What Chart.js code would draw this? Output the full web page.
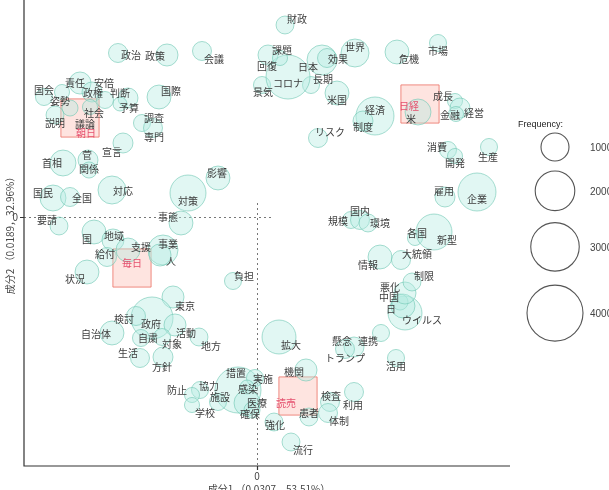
<!DOCTYPE html>
<html>
<head>
<meta charset="utf-8">
<script src="https://cdn.jsdelivr.net/npm/chart.js@4"></script>
<style>
    html, body { margin: 0; padding: 0; background: #fff; }
    #wrap { width: 609px; height: 490px; }
</style>
</head>
<body>
<div id="wrap"><canvas id="ca-chart" width="609" height="490"></canvas></div>
<script>
// words (row points) of the correspondence analysis
const words = [
    '政治', '政策', '会議', '国会', '責任', '安倍', '政権', '判断', '姿勢', '社会',
    '予算', '議論', '説明', '国際', '調査', '専門', '宣言', '首相', '菅', '関係',
    '対応', '国民', '全国', '影響', '対策', '事態', '要請', '国', '地域', '支援',
    '事業', '人', '給付', '状況', '負担', '東京', '政府', '検討', '自治体', '自粛',
    '活動', '対象', '地方', '生活', '方針', '措置', '実施', '感染', '施設', '協力',
    '防止', '学校', '医療', '確保', '強化', '機関', '患者', '拡大', '懸念', 'トランプ',
    '連携', '活用', '検査', '利用', '体制', '流行', 'ウイルス', '中国', '日', '悪化',
    '制限', '情報', '大統領', '各国', '新型', '規模', '国内', '環境', '雇用', '企業',
    '消費', '開発', '生産', '成長', '経営', '金融', '米', '経済', '制度', 'リスク',
    '米国', '長期', '景気', 'コロナ', '回復', '課題', '日本', '効果', '世界', '財政',
    '危機', '市場'
];
const dim1 = [
    -1.39, -0.90, -0.55, -2.13, -1.77, -1.65, -1.52, -1.29, -1.95, -1.67,
    -1.37, -1.87, -2.02, -0.98, -1.15, -1.04, -1.34, -1.94, -1.69, -1.68,
    -1.45, -2.04, -1.87, -0.39, -0.69, -0.76, -1.98, -1.63, -1.44, -1.29,
    -0.94, -0.97, -1.50, -1.70, -0.24, -0.84, -1.05, -1.21, -1.45, -1.16,
    -0.82, -0.95, -0.58, -1.17, -0.94, -0.19, -0.02, -0.10, -0.39, -0.57,
    -0.65, -0.65, -0.10, -0.05, 0.17, 0.49, 0.52, 0.22, 0.97, 0.88,
    1.24, 1.39, 0.73, 0.97, 0.71, 0.34, 1.48, 1.43, 1.46, 1.48,
    1.55, 1.23, 1.44, 1.58, 1.77, 0.94, 1.03, 1.11, 1.88, 2.20,
    1.91, 1.98, 2.32, 1.98, 2.03, 1.99, 1.61, 1.18, 1.06, 0.61,
    0.80, 0.54, 0.05, 0.31, 0.11, 0.23, 0.65, 0.70, 0.98, 0.28,
    1.40, 1.81
];
const dim2 = [
    1.64, 1.62, 1.66, 1.20, 1.34, 1.25, 1.17, 1.19, 1.25, 1.10,
    1.13, 1.09, 1.02, 1.20, 0.94, 0.89, 0.74, 0.54, 0.57, 0.47,
    0.27, 0.19, 0.20, 0.39, 0.24, -0.06, -0.09, -0.15, -0.23, -0.33,
    -0.33, -0.38, -0.40, -0.55, -0.64, -0.80, -1.01, -0.99, -1.16, -1.21,
    -1.08, -1.20, -1.20, -1.41, -1.40, -1.73, -1.61, -1.70, -1.85, -1.73,
    -1.78, -1.88, -1.86, -1.93, -2.05, -1.53, -2.00, -1.20, -1.30, -1.32,
    -1.16, -1.41, -1.85, -1.75, -1.96, -2.25, -0.96, -0.85, -0.89, -0.76,
    -0.65, -0.40, -0.43, -0.21, -0.15, -0.03, -0.03, -0.06, 0.20, 0.25,
    0.67, 0.61, 0.70, 1.16, 1.09, 1.03, 1.05, 1.01, 0.96, 0.79,
    1.24, 1.32, 1.32, 1.40, 1.62, 1.59, 1.57, 1.59, 1.64, 1.92,
    1.65, 1.74
];
const freq = [
    460, 620, 460, 370, 620, 510, 370, 510, 290, 290,
    250, 330, 410, 730, 370, 460, 510, 860, 510, 330,
    1000, 860, 460, 730, 1650, 730, 410, 730, 620, 730,
    1150, 620, 460, 730, 370, 620, 2250, 460, 730, 370,
    620, 370, 410, 460, 510, 2700, 370, 250, 370, 370,
    290, 290, 860, 330, 410, 620, 410, 1470, 510, 460,
    370, 370, 460, 460, 460, 410, 1470, 330, 730, 620,
    410, 730, 460, 290, 1650, 370, 460, 410, 510, 1840,
    370, 290, 370, 290, 510, 290, 860, 1840, 510, 460,
    730, 370, 370, 2470, 510, 290, 1150, 460, 1000, 410,
    730, 370
];

// newspapers (column points)
const papers = ['朝日', '毎日', '読売', '日経'];
const paperDim1 = [-1.77, -1.25, 0.41, 1.63];
const paperDim2 = [0.99, -0.51, -1.79, 1.13];

const legendFreq = [1000, 2000, 3000, 4000];

// label nudges in px (repelled text placement)
const wordNudge = [
    [13, 2], [-12, 1], [12, 8], [0, -7], [-5, 0], [12, -9], [-12, -7], [-8, -5], [-2, 9], [4, 6],
    [9, 4], [15, 16], [0, 8], [12, -6], [12, -5], [1, 9], [-11, 9], [-11, 0], [-1, -5], [0, -1],
    [11, 1], [-10, -5], [12, 1], [-1, -5], [0, 8], [-13, -6], [-12, -6], [-7, 7], [1, -4], [13, -3],
    [5, -6], [11, 6], [-2, -3], [-12, 7], [11, -5], [12, 9], [-1, 6], [-12, 3], [-16, 1], [7, 0],
    [11, 8], [10, 7], [12, 9], [-12, -5], [-1, 10], [-2, -17], [8, 1], [1, 2], [2, -5], [9, -4],
    [-15, -5], [13, 8], [10, 0], [-2, 4], [1, 3], [-12, 2], [0, -4], [12, 8], [-12, -6], [0, 9],
    [-13, 8], [0, 8], [1, -6], [-1, 13], [11, 8], [12, 8], [17, 7], [-11, -5], [-12, 3], [-15, -6],
    [12, -6], [-12, 8], [16, -6], [2, -5], [13, 8], [-13, 1], [0, -9], [12, 0], [-1, -6], [0, 7],
    [-11, -3], [0, 7], [-1, 10], [-12, -5], [14, 5], [-6, 1], [-7, 7], [0, -6], [0, 6], [12, -6],
    [0, 7], [12, -6], [1, 7], [0, 6], [-1, 11], [2, -8], [-14, 7], [11, 1], [0, -6], [12, -6],
    [12, 7], [0, 8]
];
const paperNudge = [[6, 15], [0, -5], [-12, 7], [-11, 2]];

const JP_FONT = '"Noto Sans CJK JP", "Noto Sans", sans-serif';

// bubble area proportional to frequency
const sizeOf = (f) => 14 * Math.sqrt(f / 1000);

const wordPoints = words.map((w, i) => ({ x: dim1[i], y: dim2[i], r: sizeOf(freq[i]) }));
const paperPoints = papers.map((p, i) => ({ x: paperDim1[i], y: paperDim2[i] }));

const caDecor = {
    id: 'caDecor',
    beforeDatasetsDraw(chart) {
        const { ctx, chartArea: a, scales: { x, y } } = chart;
        const x0 = x.getPixelForValue(0);
        const y0 = y.getPixelForValue(0);
        ctx.save();
        ctx.strokeStyle = '#777';
        ctx.lineWidth = 1;
        ctx.setLineDash([2, 3]);
        ctx.beginPath();
        ctx.moveTo(a.left, y0 + 0.5);
        ctx.lineTo(x0 + 15, y0 + 0.5);
        ctx.moveTo(x0 + 0.5, y0 - 14);
        ctx.lineTo(x0 + 0.5, a.bottom);
        ctx.stroke();
        ctx.restore();
    },
    afterDatasetsDraw(chart) {
        const { ctx, chartArea: a, scales: { x, y } } = chart;
        const x0 = x.getPixelForValue(0);
        const y0 = y.getPixelForValue(0);

        ctx.save();
        ctx.textAlign = 'center';
        ctx.textBaseline = 'middle';
        ctx.font = '10px ' + JP_FONT;

        // word labels
        ctx.fillStyle = '#3c3c3c';
        words.forEach((w, i) => {
            const px = x.getPixelForValue(dim1[i]) + wordNudge[i][0];
            const py = y.getPixelForValue(dim2[i]) + wordNudge[i][1];
            ctx.fillText(w, px, py);
        });

        // newspaper labels
        ctx.fillStyle = '#e5506e';
        papers.forEach((p, i) => {
            const px = x.getPixelForValue(paperDim1[i]) + paperNudge[i][0];
            const py = y.getPixelForValue(paperDim2[i]) + paperNudge[i][1];
            ctx.fillText(p, px, py);
        });

        // axes
        ctx.strokeStyle = '#333';
        ctx.lineWidth = 1.2;
        ctx.beginPath();
        ctx.moveTo(a.left, a.top);
        ctx.lineTo(a.left, a.bottom);
        ctx.lineTo(a.right, a.bottom);
        ctx.moveTo(a.left - 4, y0 + 0.5);
        ctx.lineTo(a.left, y0 + 0.5);
        ctx.moveTo(x0 + 0.5, a.bottom);
        ctx.lineTo(x0 + 0.5, a.bottom + 4);
        ctx.stroke();

        ctx.fillStyle = '#444';
        ctx.font = '10px ' + JP_FONT;
        ctx.textAlign = 'right';
        ctx.fillText('0', a.left - 6, y0);
        ctx.textAlign = 'center';
        ctx.fillText('0', x0, a.bottom + 10);

        ctx.fillText('成分1 （0.0307，53.51%）', (a.left + a.right) / 2 + 2, a.bottom + 23);
        ctx.save();
        ctx.translate(10, (a.top + a.bottom) / 2);
        ctx.rotate(-Math.PI / 2);
        ctx.fillText('成分2 （0.0189，32.96%）', 0, 0);
        ctx.restore();

        // size legend
        ctx.textAlign = 'left';
        ctx.fillStyle = '#222';
        ctx.font = '9px "Liberation Sans", sans-serif';
        ctx.fillText('Frequency:', a.right + 8, 125);
        ctx.strokeStyle = '#555';
        ctx.lineWidth = 1.1;
        ctx.font = '10px "Liberation Sans", sans-serif';
        ctx.fillStyle = '#444';
        let cy = 133;
        legendFreq.forEach((f, i) => {
            const r = sizeOf(f);
            cy += r;
            ctx.beginPath();
            ctx.arc(555, cy, r, 0, Math.PI * 2);
            ctx.stroke();
            ctx.fillText(String(f), 590, cy + 1);
            cy += r + 10 + i * 2;
        });
        ctx.restore();
    }
};

new Chart(document.getElementById('ca-chart').getContext('2d'), {
    type: 'bubble',
    data: {
        datasets: [
            {
                label: 'words',
                data: wordPoints,
                backgroundColor: 'rgba(180, 236, 225, 0.4)',
                borderColor: 'rgba(110, 198, 178, 0.6)',
                borderWidth: 1,
                order: 1
            },
            {
                label: 'papers',
                data: paperPoints,
                pointStyle: 'rect',
                radius: 27,
                backgroundColor: 'rgba(252, 196, 186, 0.45)',
                borderColor: 'rgba(235, 110, 100, 0.8)',
                borderWidth: 1,
                order: 2
            }
        ]
    },
    options: {
        responsive: false,
        animation: false,
        events: [],
        layout: { autoPadding: false, padding: { left: 24, right: 99, top: 0, bottom: 24 } },
        plugins: {
            legend: { display: false },
            tooltip: { enabled: false }
        },
        scales: {
            x: { type: 'linear', min: -2.33, max: 2.53, display: false },
            y: { type: 'linear', min: -2.49, max: 2.17, display: false }
        }
    },
    plugins: [caDecor]
});
</script>
</body>
</html>
